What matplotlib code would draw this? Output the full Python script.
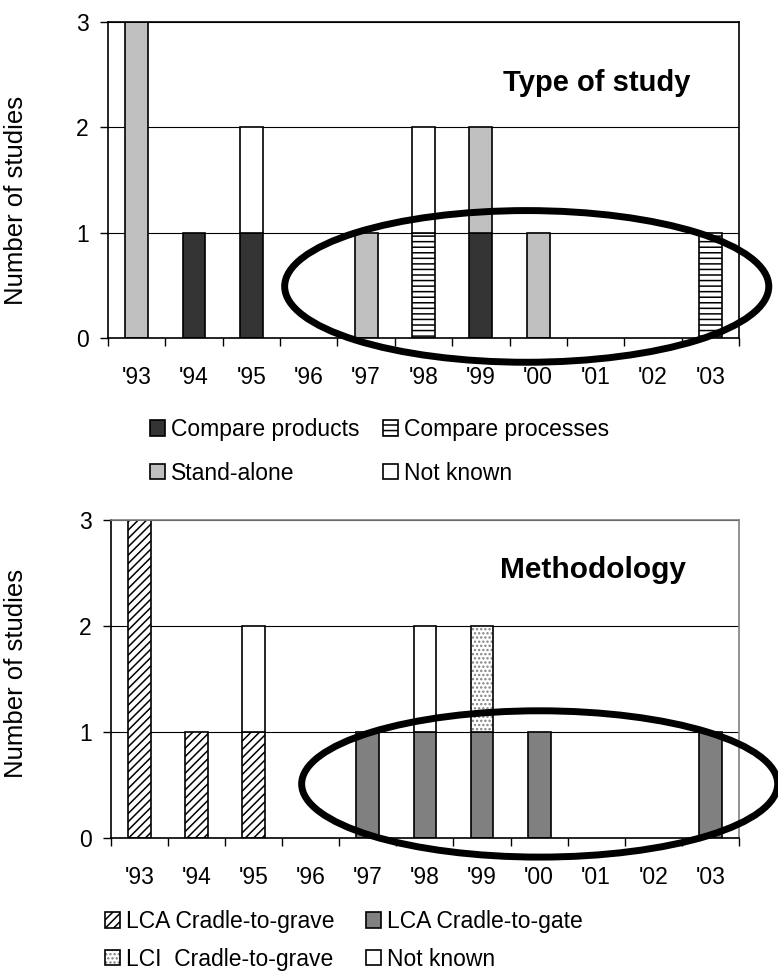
import numpy as np
import matplotlib
matplotlib.use("Agg")
from matplotlib import pyplot as plt
from matplotlib.patches import Ellipse

plt.rcParams['font.family'] = ['Liberation Sans', 'DejaVu Sans']
plt.rcParams['hatch.linewidth'] = 1.1

years = ["'93", "'94", "'95", "'96", "'97", "'98", "'99", "'00", "'01", "'02", "'03"]

# Type of study
compare_products  = [0, 1, 1, 0, 0, 0, 1, 0, 0, 0, 0]
compare_processes = [0, 0, 0, 0, 0, 1, 0, 0, 0, 0, 1]
stand_alone       = [3, 0, 0, 0, 1, 0, 1, 1, 0, 0, 0]
type_not_known    = [0, 0, 1, 0, 0, 1, 0, 0, 0, 0, 0]

# Methodology
lca_grave      = [3, 1, 1, 0, 0, 0, 0, 0, 0, 0, 0]
lca_gate       = [0, 0, 0, 0, 1, 1, 1, 1, 0, 0, 1]
lci_grave      = [0, 0, 0, 0, 0, 0, 1, 0, 0, 0, 0]
meth_not_known = [0, 0, 1, 0, 0, 1, 0, 0, 0, 0, 0]

FS = 16.5
W = 0.4
x = np.arange(len(years))


def stacked(ax, x, vals, bottom, **kw):
    vals = np.array(vals, dtype=float)
    m = vals > 0
    b = ax.bar(x[m], vals[m], W, bottom=bottom[m], **kw)
    return b, bottom + vals


def style_axes(ax, frame_col):
    ax.set_xlim(-0.5, len(years) - 0.5)
    ax.set_ylim(0, 3)
    ax.set_yticks([0, 1, 2, 3])
    ax.yaxis.grid(True, color='black', lw=0.8)
    ax.set_axisbelow(True)
    ax.set_xticks(np.arange(-0.5, len(years)), minor=False)
    ax.set_xticklabels([])
    ax.set_xticks(x, minor=True)
    ax.set_xticklabels(years, minor=True)
    ax.tick_params(axis='x', which='major', length=6, width=1, direction='out')
    ax.tick_params(axis='x', which='minor', length=0, pad=20, labelsize=FS)
    ax.tick_params(axis='y', length=6, width=1, direction='out', pad=8, labelsize=FS)
    for s in ['left', 'bottom']:
        ax.spines[s].set_color('black')
        ax.spines[s].set_linewidth(1.2)
    for s in ['top', 'right']:
        ax.spines[s].set_color(frame_col)
        ax.spines[s].set_linewidth(1.2)
    ax.set_ylabel('Number of studies', fontsize=18.5)


fig = plt.figure(figsize=(7.78, 9.75), dpi=100)

# ---------- top: type of study ----------
ax1 = fig.add_axes([0.1388, 0.6533, 0.811, 0.3241])
bot = np.zeros(len(x))
h_prod, bot = stacked(ax1, x, compare_products, bot, color='#333333', edgecolor='black', lw=1.2)
h_proc, bot = stacked(ax1, x, compare_processes, bot, color='white', edgecolor='black', lw=1.2, hatch='---')
h_stand, bot = stacked(ax1, x, stand_alone, bot, color='#c0c0c0', edgecolor='black', lw=1.2)
h_nk1, bot = stacked(ax1, x, type_not_known, bot, color='white', edgecolor='black', lw=1.2)
style_axes(ax1, 'black')
ax1.yaxis.set_label_coords(-0.127, 0.434)
ax1.text(0.775, 0.807, 'Type of study', transform=ax1.transAxes, ha='center', va='center',
         fontsize=21, fontweight='bold')
ax1.add_patch(Ellipse((6.80, 0.49), 8.44, 1.44, fill=False, lw=5, edgecolor='black',
                      clip_on=False, zorder=5))
fig.legend([h_prod, h_stand, h_proc, h_nk1],
           ['Compare products', 'Stand-alone', 'Compare processes', 'Not known'],
           ncol=2, loc='upper left', bbox_to_anchor=(150 / 778, 1 - 418 / 975),
           frameon=False, fontsize=FS, handlelength=0.65, handleheight=0.65,
           handletextpad=0.25, columnspacing=1.05, labelspacing=0.9,
           borderpad=0, borderaxespad=0)

# ---------- bottom: methodology ----------
ax2 = fig.add_axes([0.1427, 0.1405, 0.807, 0.3262])
bot = np.zeros(len(x))
h_grave, bot = stacked(ax2, x, lca_grave, bot, color='white', edgecolor='black', lw=1.2, hatch='////')
h_gate, bot = stacked(ax2, x, lca_gate, bot, color='#808080', edgecolor='black', lw=1.2)
h_lci_fill, _ = stacked(ax2, x, lci_grave, bot, color='white', edgecolor='#808080', lw=0, hatch='....')
h_lci_edge, bot = stacked(ax2, x, lci_grave, bot, fill=False, edgecolor='black', lw=1.2)
h_nk2, bot = stacked(ax2, x, meth_not_known, bot, color='white', edgecolor='black', lw=1.2)
style_axes(ax2, '#808080')
ax2.yaxis.set_label_coords(-0.132, 0.519)
ax2.text(0.767, 0.843, 'Methodology', transform=ax2.transAxes, ha='center', va='center',
         fontsize=21.5, fontweight='bold')
ax2.add_patch(Ellipse((7.01, 0.51), 8.34, 1.38, fill=False, lw=5, edgecolor='black',
                      clip_on=False, zorder=5))
fig.legend([h_grave, (h_lci_fill, h_lci_edge), h_gate, h_nk2],
           ['LCA Cradle-to-grave', 'LCI  Cradle-to-grave', 'LCA Cradle-to-gate', 'Not known'],
           ncol=2, loc='upper left', bbox_to_anchor=(105 / 778, 1 - 910 / 975),
           frameon=False, fontsize=FS, handlelength=0.65, handleheight=0.65,
           handletextpad=0.25, columnspacing=1.4, labelspacing=0.65,
           borderpad=0, borderaxespad=0)

fig.savefig('out.png', dpi=100)
